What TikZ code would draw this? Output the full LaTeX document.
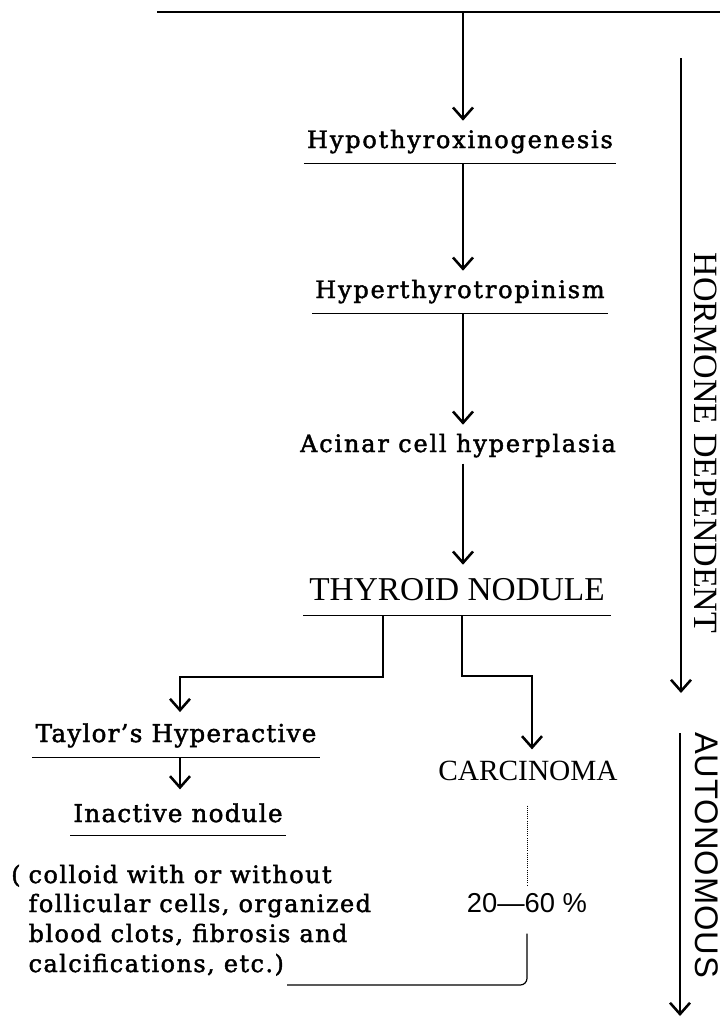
\documentclass[tikz,border=0pt]{standalone}
\usepackage{fontspec}
\newfontfamily\labA{DejaVu Serif}[LetterSpace=7.5,FakeBold=1.8]
\newfontfamily\labB{DejaVu Serif}[LetterSpace=5,FakeBold=1.8]
\newfontfamily\labC{DejaVu Serif}[LetterSpace=6,FakeBold=1.8]
\newfontfamily\capfont{Liberation Serif}
\newfontfamily\capsans{Liberation Sans}[LetterSpace=3]
\newfontfamily\numsans{Liberation Sans}
\usetikzlibrary{arrows.meta}
\begin{document}
\begin{tikzpicture}[x=0.75pt,y=-0.75pt,
  line width=0.9pt,
  arr/.style={-{Straight Barb[length=8.5pt,width=15pt,line width=1.9pt]}},
  ul/.style={line width=0.7pt},
  lab/.style={inner xsep=2pt,inner ysep=0pt,anchor=base,text height=20pt,text depth=11.25pt,
    font=\labA\fontsize{18}{20}\selectfont},
  labb/.style={inner xsep=2pt,inner ysep=0pt,anchor=base,text height=22pt,text depth=11.25pt,
    font=\labB\fontsize{18.5}{22}\selectfont},
  capl/.style={inner xsep=4pt,inner ysep=0pt,anchor=base,text height=26pt,text depth=11.25pt,
    font=\capfont\fontsize{25}{28}\selectfont},
  parl/.style={inner sep=0pt,anchor=base west,font=\labC\fontsize{18}{22}\selectfont},
  side/.style={rotate=-90,inner sep=0pt}
]
\useasboundingbox (0,0) rectangle (720,1021);

% nodes
\node[lab] (hypo) at (460,148) {Hypothyroxinogenesis};
\node[lab] (hyper) at (460,298) {Hyperthyrotropinism};
\node[lab,text depth=8.25pt] (acinar) at (458,452) {Acinar cell hyperplasia};
\node[capl] (thy) at (457,600) {THYROID NODULE};
\node[labb] (tay) at (176,742) {Taylor’s Hyperactive};
\node[labb,text height=24pt,text depth=9.75pt] (inact) at (178,822) {Inactive nodule};
\node[inner sep=0pt,anchor=base,text height=22.5pt,text depth=18.75pt,
  font=\capfont\fontsize{22}{24}\selectfont] (carc) at (528,780) {CARCINOMA};
\node[inner sep=0pt,anchor=base,text height=18.75pt,text depth=15.75pt,
  font=\numsans\fontsize{20.5}{22}\selectfont] (sixty) at (527,912) {20—60 \%};
\node[parl] (p1) at (28,883) {\llap{(\hspace{6pt}}colloid with or without};
\node[parl] (p2) at (28,912) {follicular cells, organized};
\node[parl] (p3) at (28,942) {blood clots, fibrosis and};
\node[parl] (p4) at (28,972) {calcifications, etc.)};
\node[side,font=\capfont\fontsize{25.5}{28}\selectfont] (hd) at (706,443) {HORMONE DEPENDENT};
\node[side,font=\capsans\fontsize{24.5}{27}\selectfont] (aut) at (707,855) {AUTONOMOUS};

% coordinates
\coordinate (tl) at (157,12);
\coordinate (tr) at (720,12);
\coordinate (t0) at (463,12);
\coordinate (c1) at (383,677);
\coordinate (j1) at (180,677);
\coordinate (c2) at (462,676);
\coordinate (j2) at (532,676);
\coordinate (h1) at (681,58);
\coordinate (h2) at (681,693);
\coordinate (a1) at (680,733);
\coordinate (a2) at (680,1016);

% connectors
\draw (tl) -- (tr);
\draw[arr] (t0) -- (t0 |- hypo.north);
\draw[ul] (hypo.south west) -- (hypo.south east);
\draw[arr] (hypo.south -| t0) -- (t0 |- hyper.north);
\draw[ul] (hyper.south west) -- (hyper.south east);
\draw[arr] (hyper.south -| t0) -- (t0 |- acinar.north);
\draw[arr] (acinar.south -| t0) -- (t0 |- thy.north);
\draw[ul] (thy.south west) -- (thy.south east);
\draw[arr] (thy.south -| c1) -- (c1) -- (j1) -- (j1 |- tay.north);
\draw[arr] (thy.south -| c2) -- (c2) -- (j2) -- (j2 |- carc.north);
\draw[ul] (tay.south west) -- (tay.south east);
\draw[arr] (tay.south -| j1) -- (j1 |- inact.north);
\draw[ul] (inact.south west) -- (inact.south east);
\draw[densely dotted,line width=0.6pt] (carc.south -| sixty.north) -- (sixty.north);
\draw[rounded corners=5pt] (sixty.south) |- ([xshift=2pt,yshift=-9.75pt]p4.base east);
\draw[arr] (h1) -- (h2);
\draw[arr] (a1) -- (a2);
\end{tikzpicture}
\end{document}
